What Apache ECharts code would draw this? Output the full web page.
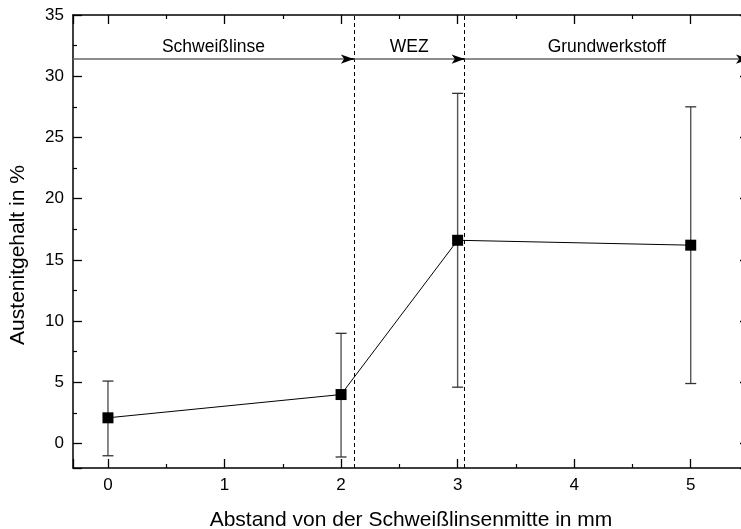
<!DOCTYPE html>
<html>
<head>
<meta charset="utf-8">
<script src="https://cdn.jsdelivr.net/npm/echarts@6/dist/echarts.min.js"></script>
<style>
html,body{margin:0;padding:0;background:#fff;}
#chart{width:741px;height:529px;}
</style>
</head>
<body>
<div id="chart"></div>
<script>
// ---- data ----
const xValues = [0, 2, 3, 5];
const yValues = [2.1, 4.0, 16.6, 16.2];
const errLow = [-1.0, -1.1, 4.6, 4.9];
const errHigh = [5.1, 9.0, 28.6, 27.5];
const boundaries = [2.11, 3.06];
const regionLabels = ['Schweißlinse', 'WEZ', 'Grundwerkstoff'];
const arrowLevel = 31.4;
const xRange = [-0.3, 5.5];
const yRange = [-2, 35];
const xTitle = 'Abstand von der Schweißlinsenmitte in mm';
const yTitle = 'Austenitgehalt in %';

const FONT = '"Liberation Sans", Arial, sans-serif';
const chart = echarts.init(document.getElementById('chart'), null, {renderer: 'canvas'});

function axisCommon(showLabels, showMax) {
  return {
    axisLine: {show: true, onZero: false, lineStyle: {color: '#000', width: 1.5}},
    axisTick: {show: true, inside: true, length: 9, lineStyle: {color: '#000', width: 1.3}},
    minorTick: {show: true, splitNumber: 2, length: 4, lineStyle: {color: '#000', width: 1.2}},
    splitLine: {show: false},
    minorSplitLine: {show: false},
    axisLabel: {show: showLabels, color: '#000', fontSize: 17, fontFamily: FONT, margin: 9,
      showMinLabel: false, showMaxLabel: showMax}
  };
}

const lineData = xValues.map((x, i) => [x, yValues[i]]);
const errData = xValues.map((x, i) => [x, errLow[i], errHigh[i]]);

const edges = [xRange[0], boundaries[0], boundaries[1], xRange[1]];
const arrowLines = [];
for (let i = 0; i < 3; i++) {
  arrowLines.push([
    {coord: [edges[i], arrowLevel], symbol: 'none', name: regionLabels[i],
     lineStyle: {color: '#666', width: 1.6, type: 'solid'},
     label: {show: true, position: 'insideMiddleTop', distance: 3, formatter: regionLabels[i],
       color: '#000', fontSize: 17.5, fontFamily: FONT}},
    {coord: [edges[i + 1], arrowLevel], symbol: 'none'}
  ]);
  // black arrowhead at the end of each segment
  arrowLines.push([
    {coord: [edges[i + 1] - 0.06, arrowLevel], symbol: 'none',
     lineStyle: {color: '#000', width: 1.6, type: 'solid'}, label: {show: false}},
    {coord: [edges[i + 1], arrowLevel], symbol: 'arrow', symbolSize: [7, 13]}
  ]);
}
const dashLines = boundaries.map(b => ({xAxis: b, symbol: 'none',
  lineStyle: {color: '#000', width: 1, type: [4, 3]}, label: {show: false}}));

const option = {
  animation: false,
  backgroundColor: '#fff',
  grid: {left: 73, top: 15, right: -8, bottom: 61, containLabel: false, outerBoundsMode: 'none'},
  xAxis: [
    Object.assign({type: 'value', min: xRange[0], max: xRange[1], splitNumber: 6, position: 'bottom'}, axisCommon(true, false)),
    Object.assign({type: 'value', min: xRange[0], max: xRange[1], splitNumber: 6, position: 'top'}, axisCommon(false, false))
  ],
  yAxis: [
    Object.assign({type: 'value', min: yRange[0], max: yRange[1], splitNumber: 7, position: 'left'}, axisCommon(true, true)),
    Object.assign({type: 'value', min: yRange[0], max: yRange[1], splitNumber: 7, position: 'right'}, axisCommon(false, true))
  ],
  graphic: [
    {type: 'text', x: 411, y: 520, style: {text: xTitle, font: '21px ' + FONT, fill: '#000',
      textAlign: 'center', textVerticalAlign: 'middle'}},
    {type: 'text', x: 18, y: 255, rotation: Math.PI / 2, style: {text: yTitle, font: '21px ' + FONT, fill: '#000',
      textAlign: 'center', textVerticalAlign: 'middle'}}
  ],
  series: [
    {
      type: 'custom',
      xAxisIndex: 0, yAxisIndex: 0,
      data: errData,
      encode: {x: 0, y: [1, 2]},
      z: 1,
      renderItem: function (params, api) {
        const x = api.value(0);
        const top = api.coord([x, api.value(2)]);
        const bot = api.coord([x, api.value(1)]);
        const cw = 5.5;
        return {
          type: 'group',
          children: [
            {type: 'line', shape: {x1: top[0], y1: top[1], x2: bot[0], y2: bot[1]},
             style: {stroke: '#555', lineWidth: 1.4}},
            {type: 'line', shape: {x1: top[0] - cw, y1: top[1], x2: top[0] + cw, y2: top[1]},
             style: {stroke: '#333', lineWidth: 1.3}},
            {type: 'line', shape: {x1: bot[0] - cw, y1: bot[1], x2: bot[0] + cw, y2: bot[1]},
             style: {stroke: '#333', lineWidth: 1.3}}
          ]
        };
      }
    },
    {
      type: 'line',
      xAxisIndex: 0, yAxisIndex: 0,
      data: lineData,
      z: 3,
      symbol: 'rect',
      symbolSize: 11,
      itemStyle: {color: '#000'},
      lineStyle: {color: '#000', width: 1},
      markLine: {
        silent: true,
        animation: false,
        symbol: 'none',
        data: dashLines.concat(arrowLines)
      }
    }
  ]
};
chart.setOption(option);
</script>
</body>
</html>
